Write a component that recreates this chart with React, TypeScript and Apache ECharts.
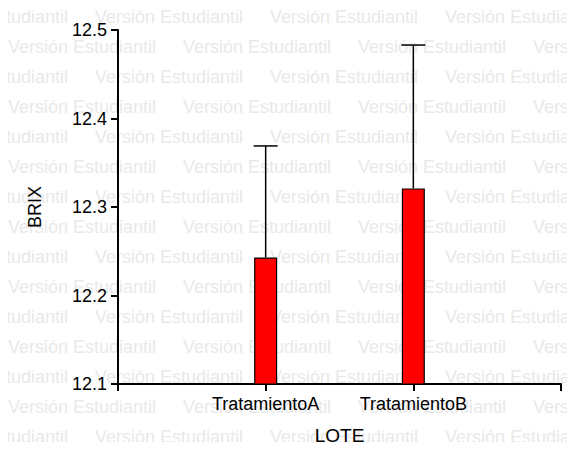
import React, { useEffect, useRef } from "react";
import * as echarts from "echarts";

const categories = ["TratamientoA", "TratamientoB"];
const means = [12.243, 12.321];
const errors = [0.126, 0.162];
const yMin = 12.1;
const yMax = 12.5;
const yInterval = 0.1;
const watermark = "Versión Estudiantil";

const FONT = "Liberation Sans, Arial, sans-serif";

function buildWatermark() {
  const els: any[] = [];
  for (let r = 0; r < 15; r++) {
    const y = 17 + r * 30;
    const start = r % 2 === 0 ? -80 : 8;
    for (let c = 0; c < 4; c++) {
      els.push({
        type: "text",
        x: start + c * 175,
        y,
        z: -10,
        silent: true,
        style: {
          text: watermark,
          fill: "#e9e9e9",
          font: `18px ${FONT}`,
          verticalAlign: "middle",
          align: "left",
        },
      });
    }
  }
  return els;
}

export default function App() {
  const ref = useRef<HTMLDivElement>(null);
  useEffect(() => {
    if (!ref.current) return;
    const chart = echarts.init(ref.current, undefined, { renderer: "svg" });
    const barData = categories.map((_, i) => [i + 1, means[i]]);
    const errData = categories.map((_, i) => [i + 1, means[i], means[i] + errors[i]]);
    chart.setOption({
      animation: false,
      backgroundColor: "#ffffff",
      textStyle: { fontFamily: FONT },
      graphic: buildWatermark(),
      grid: { left: 118, right: 14, top: 30, bottom: 64 },
      xAxis: {
        type: "value",
        min: 0,
        max: 3,
        interval: 1,
        name: "LOTE",
        nameLocation: "middle",
        nameGap: 42,
        nameTextStyle: { color: "#000", fontSize: 19, fontFamily: FONT },
        splitLine: { show: false },
        axisLine: { show: true, lineStyle: { color: "#000", width: 2 } },
        axisTick: { show: true, inside: false, length: 7, lineStyle: { color: "#000", width: 2 } },
        axisLabel: {
          margin: 11,
          color: "#000",
          fontSize: 18,
          fontFamily: FONT,
          formatter: (v: number) => categories[v - 1] ?? "",
        },
      },
      yAxis: {
        type: "value",
        min: yMin,
        max: yMax,
        interval: yInterval,
        name: "BRIX",
        nameLocation: "middle",
        nameRotate: 90,
        nameGap: 74,
        nameTextStyle: { color: "#000", fontSize: 18, fontFamily: FONT },
        splitLine: { show: false },
        axisLine: { show: true, onZero: false, lineStyle: { color: "#000", width: 2 } },
        axisTick: { show: true, inside: false, length: 7, lineStyle: { color: "#000", width: 2 } },
        axisLabel: {
          margin: 11,
          color: "#000",
          fontSize: 18,
          fontFamily: FONT,
          formatter: (v: number) => v.toFixed(1),
        },
      },
      series: [
        {
          type: "bar",
          data: barData,
          barWidth: 23,
          itemStyle: { color: "#ff0000", borderColor: "#000", borderWidth: 1.2 },
          z: 2,
        },
        {
          type: "custom",
          data: errData,
          z: 3,
          renderItem: (params: any, api: any) => {
            const x = api.value(0);
            const lo = api.coord([x, api.value(1)]);
            const hi = api.coord([x, api.value(2)]);
            const hw = 12;
            return {
              type: "group",
              children: [
                {
                  type: "line",
                  shape: { x1: lo[0], y1: lo[1], x2: hi[0], y2: hi[1] },
                  style: { stroke: "#000", lineWidth: 1.5 },
                },
                {
                  type: "line",
                  shape: { x1: hi[0] - hw, y1: hi[1], x2: hi[0] + hw, y2: hi[1] },
                  style: { stroke: "#000", lineWidth: 1.5 },
                },
              ],
            };
          },
        },
      ],
    });
    return () => chart.dispose();
  }, []);
  return <div ref={ref} style={{ width: 575, height: 450, margin: -8 }} />;
}
